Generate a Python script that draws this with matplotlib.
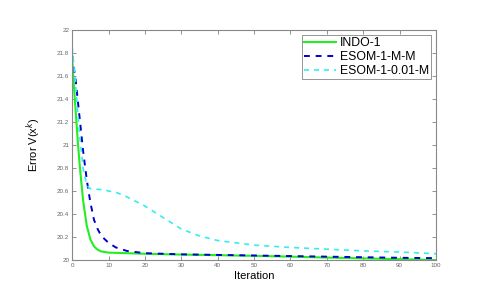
import numpy as np
import matplotlib
matplotlib.use('Agg')
import matplotlib.pyplot as plt

plt.rcParams['font.family'] = ['Liberation Sans', 'DejaVu Sans']

# values
x_indo = [0, 0.5, 1, 1.5, 2, 2.5, 3, 4, 5, 6, 7, 8, 10, 15, 20, 30, 40, 50, 60, 70, 80, 90, 100]
y_indo = [21.75, 21.5, 21.28, 21.05, 20.85, 20.68, 20.52, 20.3, 20.18, 20.12, 20.09, 20.075, 20.065,
          20.06, 20.055, 20.048, 20.043, 20.037, 20.03, 20.022, 20.015, 20.008, 20.0]

x_mm = [0, 1, 2, 3, 4, 5, 6, 7, 8, 10, 12, 15, 20, 30, 40, 50, 60, 70, 80, 90, 100]
y_mm = [21.78, 21.55, 21.25, 20.95, 20.7, 20.5, 20.35, 20.27, 20.21, 20.15, 20.11, 20.08, 20.06,
        20.05, 20.045, 20.04, 20.035, 20.03, 20.025, 20.02, 20.017]

x_001 = [0, 1, 2, 3, 4, 5, 7, 9, 10, 12, 15, 20, 25, 30, 35, 40, 50, 60, 70, 80, 90, 100]
y_001 = [21.85, 21.5, 21.1, 20.8, 20.65, 20.62, 20.615, 20.61, 20.6, 20.59, 20.55, 20.47, 20.37,
         20.27, 20.21, 20.17, 20.13, 20.11, 20.095, 20.08, 20.07, 20.055]

labels = ['INDO-1', 'ESOM-1-M-M', 'ESOM-1-0.01-M']

fig = plt.figure(figsize=(4.91, 3.0), dpi=100)
ax = fig.add_axes([0.147, 0.133, 0.741, 0.767])

ax.plot(x_indo, y_indo, '-', color='#22ee22', lw=1.5, label=labels[0])
ax.plot(x_mm, y_mm, '--', color='#0000cc', lw=1.4, dashes=(3, 3), label=labels[1])
ax.plot(x_001, y_001, '--', color='#33eeee', lw=1.2, dashes=(3, 3), label=labels[2])

ax.set_xlim(0, 100)
ax.set_ylim(20, 22)
ax.set_xticks(np.arange(0, 101, 10))
ax.set_yticks(np.arange(20, 22.01, 0.2))
ax.set_yticklabels(['20', '20.2', '20.4', '20.6', '20.8', '21', '21.2', '21.4', '21.6', '21.8', '22'])
ax.tick_params(direction='in', top=True, right=True, length=3, width=0.5,
               labelsize=4.5, colors='#666666', pad=2)
for s in ax.spines.values():
    s.set_color('#888888')
    s.set_linewidth(0.8)

ax.set_xlabel('Iteration', fontsize=8, labelpad=2)
ax.set_ylabel('Error V(x$^k$)', fontsize=8, labelpad=10)

leg = ax.legend(loc='upper right', fontsize=8.8, frameon=True, fancybox=False,
                edgecolor='#666666', handlelength=2.6, borderpad=0.2, labelspacing=0.15,
                handletextpad=0.3, borderaxespad=0.4)
leg.get_frame().set_linewidth(0.6)

fig.savefig('out.png', dpi=100)
